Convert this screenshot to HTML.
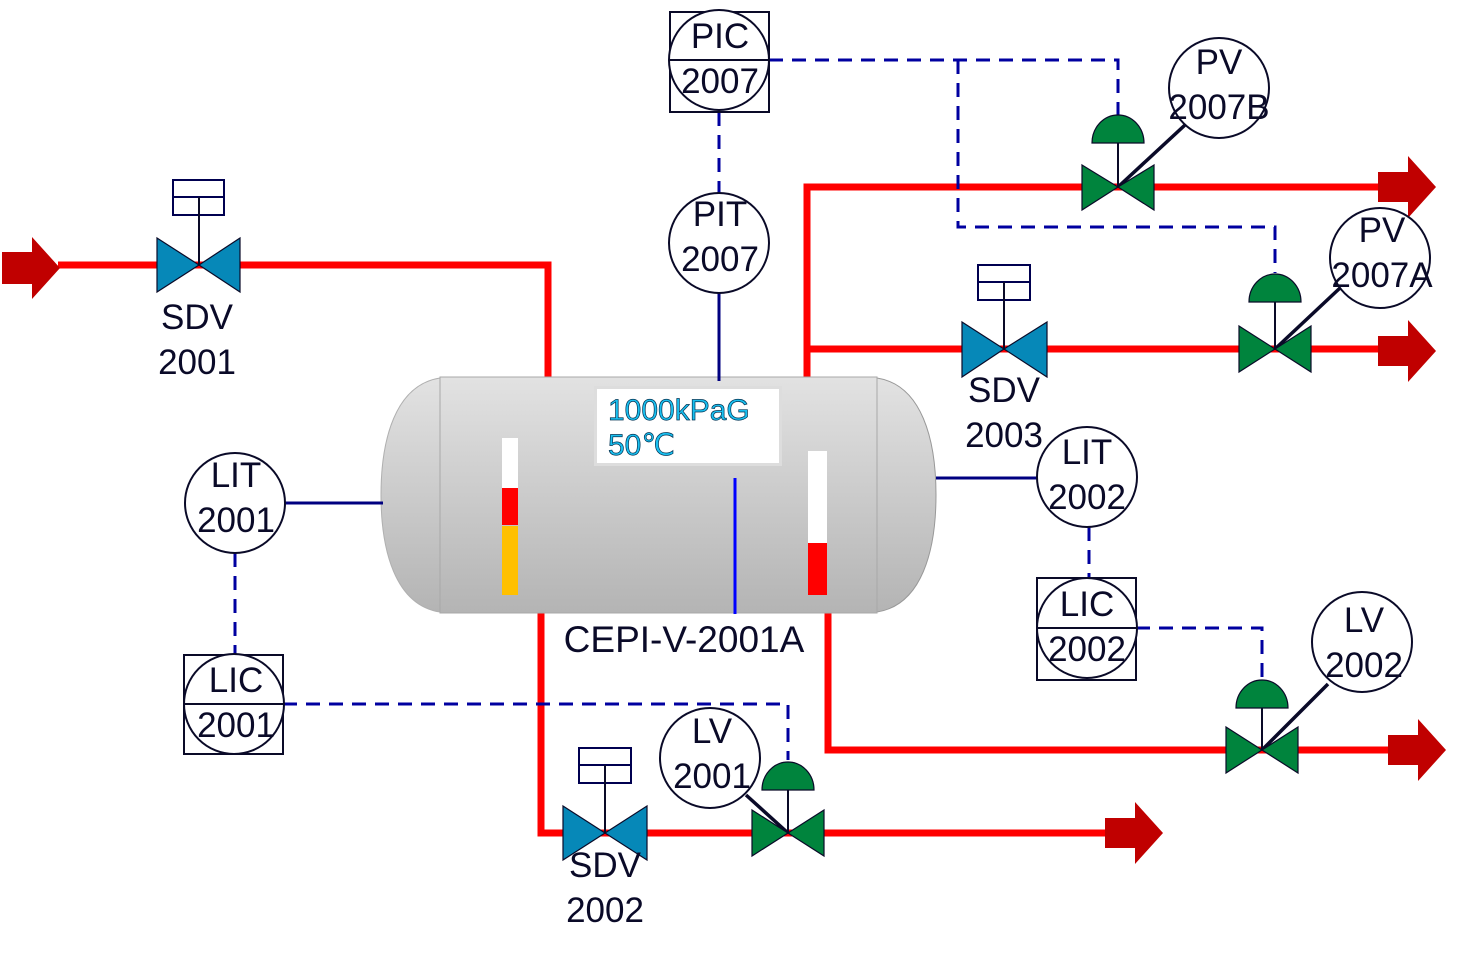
<!DOCTYPE html>
<html><head><meta charset="utf-8"><style>
html,body{margin:0;padding:0;background:#fff;width:1460px;height:956px;overflow:hidden}
svg{display:block}
text{font-family:"Liberation Sans",sans-serif;fill:#0a0a28}
</style></head><body>
<svg width="1460" height="956" viewBox="0 0 1460 956" xmlns="http://www.w3.org/2000/svg">
<defs>
<linearGradient id="vg" x1="0" y1="0" x2="0" y2="1">
<stop offset="0" stop-color="#e2e2e2"/><stop offset="1" stop-color="#b4b4b4"/></linearGradient>
</defs>
<g fill="none" stroke="#ff0000" stroke-width="7">
<polyline points="58,265 548,265 548,378"/>
<polyline points="807,378 807,187 1382,187"/>
<polyline points="807,349 1382,349"/>
<polyline points="541,612 541,833 1107,833"/>
<polyline points="828,612 828,750 1392,750"/>
</g>
<g fill="#c00000">
<polygon points="2,252 32,252 32,237 60,268 32,299 32,284 2,284"/>
<polygon points="1378,172 1408,172 1408,156 1436,187 1408,218 1408,202 1378,202"/>
<polygon points="1378,336 1408,336 1408,320 1436,351 1408,382 1408,366 1378,366"/>
<polygon points="1105,818 1135,818 1135,802 1163,833 1135,864 1135,848 1105,848"/>
<polygon points="1388,735 1418,735 1418,719 1446,750 1418,781 1418,765 1388,765"/>
</g>
<path d="M440,378 C395,385 381,440 381,495 C381,550 395,605 440,612 Z" fill="url(#vg)" stroke="#b0b0b0"/>
<path d="M877,378 C922,385 936,440 936,495 C936,550 922,605 877,612 Z" fill="url(#vg)" stroke="#999"/>
<rect x="440" y="377" width="437" height="236" fill="url(#vg)" stroke="#a8a8a8"/>
<rect x="594" y="386" width="188" height="80" fill="#ddd"/>
<rect x="597" y="389" width="182" height="74" fill="#fff"/>
<text x="608" y="420" font-size="30" style="fill:#19c0f0;stroke:#003050;stroke-width:0.7">1000kPaG</text>
<text x="608" y="455" font-size="30" style="fill:#19c0f0;stroke:#003050;stroke-width:0.7">50℃</text>
<rect x="502" y="438" width="16" height="50" fill="#fff"/>
<rect x="502" y="488" width="16" height="37" fill="#ff0000"/>
<rect x="502" y="526" width="16" height="69" fill="#ffc000"/>
<rect x="808" y="451" width="19" height="92" fill="#fff"/>
<rect x="808" y="543" width="19" height="52" fill="#ff0000"/>
<line x1="735" y1="478" x2="735" y2="614" stroke="#0000ff" stroke-width="3"/>
<text x="684" y="652" font-size="37" text-anchor="middle">CEPI-V-2001A</text>
<g stroke="#000080" stroke-width="3" fill="none">
<line x1="719" y1="293" x2="719" y2="381"/>
<line x1="285" y1="503" x2="383" y2="503"/>
<line x1="936" y1="478" x2="1037" y2="478"/>
</g>
<g stroke="#0000a0" stroke-width="3" fill="none" stroke-dasharray="14,9">
<polyline points="769,60 1118,60 1118,115"/>
<polyline points="958,60 958,227 1275,227 1275,273"/>
<line x1="719" y1="112" x2="719" y2="193"/>
<line x1="235" y1="553" x2="235" y2="655"/>
<polyline points="283,704 788,704 788,760"/>
<line x1="1089" y1="527" x2="1089" y2="578"/>
<polyline points="1136,628 1262,628 1262,680"/>
</g>
<g stroke="#0a0a28" stroke-width="2" fill="#fff">
<rect x="670" y="12" width="99" height="100"/>
<circle cx="719" cy="60" r="50"/>
<line x1="670" y1="60" x2="769" y2="60"/>
<circle cx="719" cy="243" r="50"/>
<circle cx="235" cy="503" r="50"/>
<rect x="184" y="655" width="99" height="99"/>
<circle cx="234" cy="704" r="50"/>
<line x1="184" y1="704" x2="283" y2="704"/>
<circle cx="1087" cy="477" r="50"/>
<rect x="1037" y="578" width="99" height="102"/>
<circle cx="1087" cy="628" r="50"/>
<line x1="1037" y1="628" x2="1136" y2="628"/>
<circle cx="1219" cy="88" r="50"/>
<circle cx="1380" cy="258" r="50"/>
<circle cx="1362" cy="642" r="50"/>
<circle cx="710" cy="758" r="50"/>
</g>
<g stroke="#0a0a28" stroke-width="3.5">
<line x1="1118" y1="187" x2="1185" y2="125"/>
<line x1="1275" y1="349" x2="1340" y2="288"/>
<line x1="1262" y1="750" x2="1328" y2="684"/>
<line x1="788" y1="833" x2="746" y2="795"/>
</g>
<g stroke="#000050" stroke-width="2" fill="#fff">
<rect x="173" y="180" width="51" height="35"/><line x1="173" y1="197" x2="224" y2="197"/>
<rect x="978" y="265" width="52" height="35"/><line x1="978" y1="282" x2="1030" y2="282"/>
<rect x="579" y="748" width="52" height="35"/><line x1="579" y1="765" x2="631" y2="765"/>
</g>
<g stroke="#0a0a28" stroke-width="2">
<line x1="199" y1="197" x2="199" y2="265"/>
<line x1="1004" y1="282" x2="1004" y2="349"/>
<line x1="605" y1="765" x2="605" y2="833"/>
<line x1="1118" y1="140" x2="1118" y2="187"/>
<line x1="1275" y1="300" x2="1275" y2="349"/>
<line x1="1262" y1="706" x2="1262" y2="750"/>
<line x1="788" y1="788" x2="788" y2="833"/>
</g>
<g fill="#0688b8" stroke="#0a0a28" stroke-width="1.2">
<polygon points="157,238 199,265 157,292"/><polygon points="240,238 199,265 240,292"/>
<polygon points="962,322 1004,349 962,377"/><polygon points="1047,322 1004,349 1047,377"/>
<polygon points="563,806 605,833 563,860"/><polygon points="647,806 605,833 647,860"/>
</g>
<g fill="#00843d" stroke="#0a0a28" stroke-width="1.2">
<polygon points="1082,165 1118,187 1082,210"/><polygon points="1154,165 1118,187 1154,210"/>
<polygon points="1239,326 1275,349 1239,372"/><polygon points="1311,326 1275,349 1311,372"/>
<polygon points="1226,727 1262,750 1226,773"/><polygon points="1298,727 1262,750 1298,773"/>
<polygon points="752,810 788,833 752,856"/><polygon points="824,810 788,833 824,856"/>
<path d="M1092,143 A26,28 0 0 1 1144,143 Z"/>
<path d="M1249,302 A26,28 0 0 1 1301,302 Z"/>
<path d="M1236,708 A26,28 0 0 1 1288,708 Z"/>
<path d="M762,790 A26,28 0 0 1 814,790 Z"/>
</g>
<g font-size="35" text-anchor="middle">
<text x="720" y="48">PIC</text><text x="720" y="93">2007</text>
<text x="720" y="226">PIT</text><text x="720" y="271">2007</text>
<text x="236" y="487">LIT</text><text x="236" y="532">2001</text>
<text x="236" y="692">LIC</text><text x="236" y="737">2001</text>
<text x="1087" y="464">LIT</text><text x="1087" y="509">2002</text>
<text x="1087" y="616">LIC</text><text x="1087" y="661">2002</text>
<text x="1219" y="74">PV</text><text x="1219" y="119">2007B</text>
<text x="1382" y="242">PV</text><text x="1382" y="287">2007A</text>
<text x="1364" y="632">LV</text><text x="1364" y="677">2002</text>
<text x="712" y="743">LV</text><text x="712" y="788">2001</text>
<text x="197" y="329">SDV</text><text x="197" y="374">2001</text>
<text x="1004" y="402">SDV</text><text x="1004" y="447">2003</text>
<text x="605" y="877">SDV</text><text x="605" y="922">2002</text>
</g>
</svg>
</body></html>
